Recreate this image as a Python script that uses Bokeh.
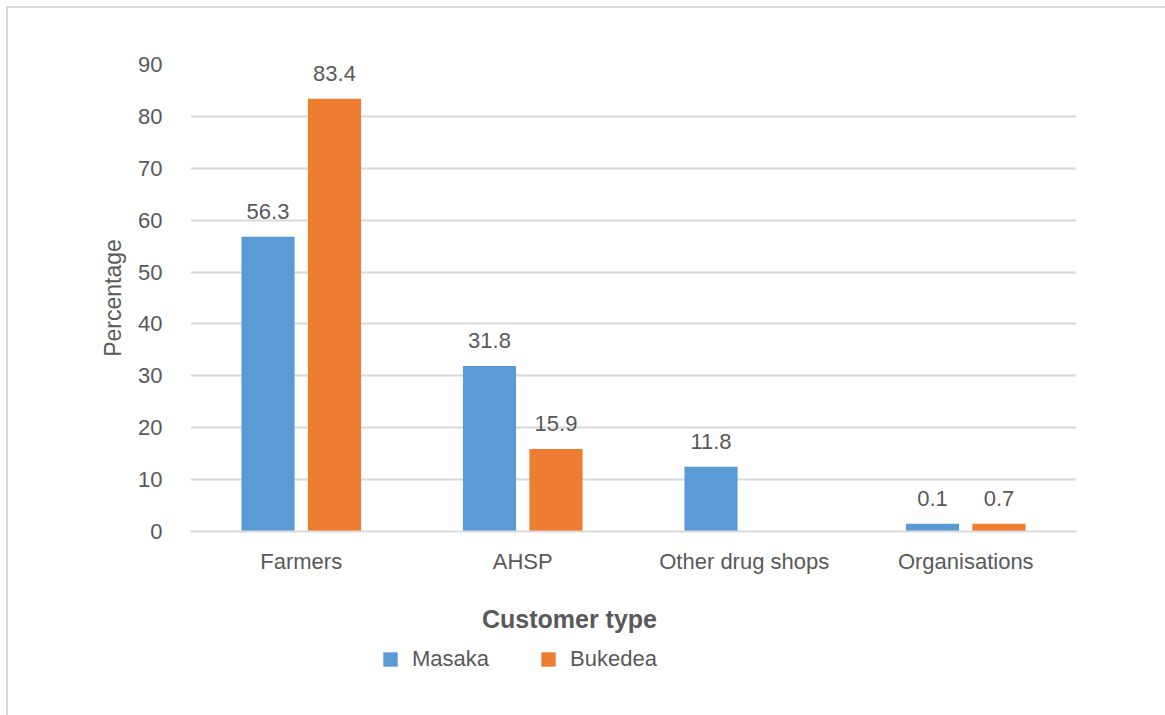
from bokeh.plotting import figure
from bokeh.layouts import column
from bokeh.models import (Range1d, FactorRange, Legend, LegendItem, ColumnDataSource,
                          LabelSet, Label, SingleIntervalTicker)
from bokeh.core.properties import value
from bokeh.transform import dodge
from bokeh.embed import file_html
from bokeh.resources import INLINE

# ---- data ----
categories = ["Farmers", "AHSP", "Other drug shops", "Organisations"]
series = ["Masaka", "Bukedea"]
masaka = [56.8, 31.9, 12.5, 1.5]          # bar heights as drawn
bukedea = [83.4, 15.9, 0.0, 1.5]
masaka_labels = ["56.3", "31.8", "11.8", "0.1"]
bukedea_labels = ["83.4", "15.9", "", "0.7"]
y_ticks_max = 90
x_title = "Customer type"
y_title = "Percentage"

FONT = "Liberation Sans"
TXT = "#595959"
GRID = "#D9D9D9"
BLUE = "#5B9BD5"
ORANGE = "#ED7D31"

src = ColumnDataSource(dict(cat=categories, masaka=masaka, bukedea=bukedea,
                            ml=masaka_labels, bl=bukedea_labels))

W = 1157
H1 = 577
H2 = 130
p = figure(width=W, height=H1, x_range=FactorRange(*categories),
           y_range=Range1d(0, y_ticks_max), output_backend="svg", toolbar_location=None,
           min_border_left=182, min_border_top=56, min_border_right=89, min_border_bottom=54)
p.outline_line_color = None
p.background_fill_color = "white"
p.border_fill_color = "white"

p.vbar(x=dodge("cat", -0.15, range=p.x_range), top="masaka", width=0.24, source=src,
       fill_color=BLUE, line_color=None)
p.vbar(x=dodge("cat", 0.15, range=p.x_range), top="bukedea", width=0.24, source=src,
       fill_color=ORANGE, line_color=None)

for xoff, col, top in ((-0.15, "ml", "masaka"), (0.15, "bl", "bukedea")):
    p.add_layout(LabelSet(x=dodge("cat", xoff, range=p.x_range), y=top, text=col, source=src,
                          text_align="center", text_baseline="alphabetic", y_offset=18,
                          text_font=value(FONT), text_font_size=value("22px"),
                          text_color=value(TXT)))

# axes
p.yaxis.ticker = SingleIntervalTicker(interval=10)
p.yaxis.axis_line_color = None
p.yaxis.major_tick_line_color = None
p.yaxis.major_tick_out = 0
p.yaxis.major_tick_in = 0
p.yaxis.minor_tick_line_color = None
p.yaxis.major_label_standoff = 24
p.yaxis.major_label_text_font = FONT
p.yaxis.major_label_text_font_size = "22px"
p.yaxis.major_label_text_color = TXT
p.yaxis.axis_label = y_title
p.yaxis.axis_label_text_font = FONT
p.yaxis.axis_label_text_font_style = "normal"
p.yaxis.axis_label_text_font_size = "23px"
p.yaxis.axis_label_text_color = TXT
p.yaxis.axis_label_standoff = 9

p.xaxis.axis_line_color = GRID
p.xaxis.axis_line_width = 2
p.xaxis.major_tick_line_color = None
p.xaxis.major_tick_out = 0
p.xaxis.major_tick_in = 0
p.xaxis.minor_tick_line_color = None
p.xaxis.major_label_standoff = 17
p.xaxis.major_label_text_font = FONT
p.xaxis.major_label_text_font_size = "22px"
p.xaxis.major_label_text_color = TXT

p.xgrid.grid_line_color = None
p.ygrid.grid_line_color = GRID
p.ygrid.grid_line_width = 2

# strip below the chart: axis title and legend (ranges in pixels of this strip)
p2 = figure(width=W, height=H2, x_range=Range1d(0, 886), y_range=Range1d(0, H2),
            output_backend="svg", toolbar_location=None, min_border=0,
            x_axis_location=None, y_axis_location=None)
p2.outline_line_color = None
p2.grid.visible = False
p2.background_fill_color = "white"
p2.border_fill_color = "white"

p2.add_layout(Label(x=379, y=97, text=x_title, text_align="center",
                    text_baseline="alphabetic", text_font=FONT, text_font_size="25px",
                    text_font_style="bold", text_color=TXT))

k1 = p2.vbar(x=[-100], top=[-100], width=1, fill_color=BLUE, line_color=None)
k2 = p2.vbar(x=[-100], top=[-100], width=1, fill_color=ORANGE, line_color=None)

legend = Legend(items=[LegendItem(label=series[0], renderers=[k1]),
                       LegendItem(label=series[1], renderers=[k2])],
                orientation="horizontal", location=(191, 43))
legend.border_line_color = None
legend.background_fill_alpha = 0
legend.glyph_width = 18
legend.glyph_height = 18
legend.label_standoff = 13
legend.spacing = 50
legend.padding = 8
legend.margin = 0
legend.label_text_font = FONT
legend.label_text_font_size = "22px"
legend.label_text_color = TXT
p2.add_layout(legend)

layout = column(p, p2, spacing=0)
layout.styles = {"margin-left": "6px", "margin-top": "6px",
                 "border-left": "2px solid #D9D9D9", "border-top": "2px solid #D9D9D9"}

open("out.html", "w").write(file_html(layout, INLINE))
